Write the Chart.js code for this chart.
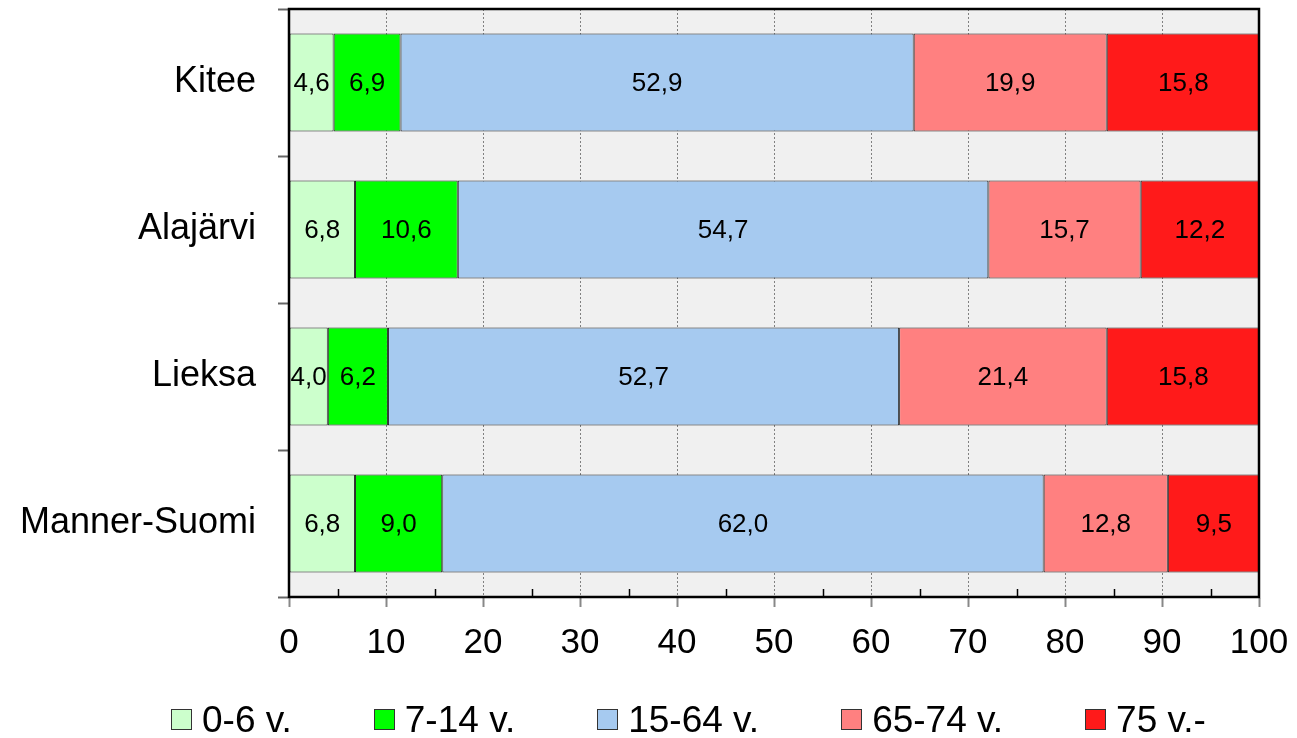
<!DOCTYPE html>
<html>
<head>
<meta charset="utf-8">
<script src="https://cdn.jsdelivr.net/npm/chart.js@4/dist/chart.umd.min.js"></script>
<style>
  body { margin: 0; background: #fff; }
  #wrap { position: relative; width: 1297px; height: 738px; }
  #legend {
    position: absolute; left: 171px; top: 701px;
    display: flex; gap: 82px;
    font-family: "Liberation Sans", Arial, sans-serif; font-size: 37px; line-height: 37px; color: #000;
  }
  #legend .item { display: flex; align-items: center; }
  #legend .box { width: 19px; height: 19px; border: 1px solid #333; margin-right: 10px; }
</style>
</head>
<body>
<div id="wrap">
  <canvas id="chart1"></canvas>
  <div id="legend"></div>
</div>
<script>
const FONT = '"Liberation Sans", Arial, sans-serif';

const areas = ["Kitee", "Alajärvi", "Lieksa", "Manner-Suomi"];
const seriesNames = ["0-6 v.", "7-14 v.", "15-64 v.", "65-74 v.", "75 v.-"];
const age0_6   = [4.6, 6.8, 4.0, 6.8];
const age7_14  = [6.9, 10.6, 6.2, 9.0];
const age15_64 = [52.9, 54.7, 52.7, 62.0];
const age65_74 = [19.9, 15.7, 21.4, 12.8];
const age75    = [15.8, 12.2, 15.8, 9.5];
const xTicks = [0, 10, 20, 30, 40, 50, 60, 70, 80, 90, 100];
const colors = ["#ccffcc", "#00ff00", "#a6caf0", "#ff8080", "#ff1a1a"];

const allSeries = [age0_6, age7_14, age15_64, age65_74, age75];

// plot background, frame, minor ticks and value labels
const decorate = {
  id: "decorate",
  beforeDraw(chart) {
    const a = chart.chartArea, ctx = chart.ctx;
    ctx.save();
    ctx.fillStyle = "#f0f0f0";
    ctx.fillRect(a.left, a.top, a.right - a.left, a.bottom - a.top);
    ctx.restore();
  },
  afterDatasetsDraw(chart) {
    const ctx = chart.ctx;
    ctx.save();
    ctx.font = "26px " + FONT;
    ctx.fillStyle = "#000";
    ctx.textAlign = "center";
    ctx.textBaseline = "middle";
    chart.data.datasets.forEach((ds, i) => {
      chart.getDatasetMeta(i).data.forEach((bar, j) => {
        const v = ds.data[j];
        const x = (bar.x + bar.base) / 2;
        ctx.fillText(v.toFixed(1).replace(".", ","), x, bar.y + 1);
      });
    });
    ctx.restore();
  },
  afterDraw(chart) {
    const a = chart.chartArea, ctx = chart.ctx, xs = chart.scales.x;
    ctx.save();
    ctx.strokeStyle = "#000";
    ctx.lineWidth = 1.5;
    for (let v = 5; v < 100; v += 10) {
      const px = Math.round(xs.getPixelForValue(v)) + 0.5;
      ctx.beginPath();
      ctx.moveTo(px, a.bottom);
      ctx.lineTo(px, a.bottom - 8);
      ctx.stroke();
    }
    ctx.lineWidth = 2.5;
    ctx.strokeRect(a.left, a.top, a.right - a.left, a.bottom - a.top);
    ctx.restore();
  }
};

const datasets = seriesNames.map((name, i) => ({
  label: name,
  data: allSeries[i],
  backgroundColor: colors[i],
  borderColor: "#222",
  borderWidth: 1,
  borderSkipped: false,
  categoryPercentage: 1,
  barPercentage: 0.667
}));

new Chart(document.getElementById("chart1").getContext("2d"), {
  type: "bar",
  data: { labels: areas, datasets: datasets },
  options: {
    indexAxis: "y",
    responsive: true,
    maintainAspectRatio: false,
    animation: false,
    layout: { padding: { left: 0, top: 9, right: 38, bottom: 66 } },
    plugins: { legend: { display: false }, tooltip: { enabled: false } },
    scales: {
      x: {
        stacked: true,
        min: 0,
        max: 100,
        afterBuildTicks(scale) { scale.ticks = xTicks.map(v => ({ value: v })); },
        afterFit(scale) {
          scale.height = 75;
          scale.paddingLeft = 0;
          scale.paddingRight = 0;
        },
        ticks: { color: "#000", font: { family: FONT, size: 35 }, padding: 15, maxRotation: 0 },
        grid: { color: "#808080", lineWidth: 1, tickLength: 10, tickColor: "#888", tickWidth: 2 },
        border: { display: true, color: "#000", width: 2, dash: [2, 2] }
      },
      y: {
        stacked: true,
        afterFit(scale) {
          scale.width = 289;
          scale.paddingTop = 0;
          scale.paddingBottom = 0;
        },
        ticks: { color: "#000", font: { family: FONT, size: 36 }, padding: 22 },
        grid: { offset: true, drawOnChartArea: false, tickLength: 11, tickColor: "#666", tickWidth: 2 },
        border: { display: true, color: "#000", width: 2 }
      }
    }
  },
  plugins: [decorate]
});

const legend = document.getElementById("legend");
seriesNames.forEach((name, i) => {
  const item = document.createElement("div");
  item.className = "item";
  const box = document.createElement("span");
  box.className = "box";
  box.style.background = colors[i];
  const txt = document.createElement("span");
  txt.textContent = name;
  item.appendChild(box);
  item.appendChild(txt);
  legend.appendChild(item);
});
</script>
</body>
</html>
